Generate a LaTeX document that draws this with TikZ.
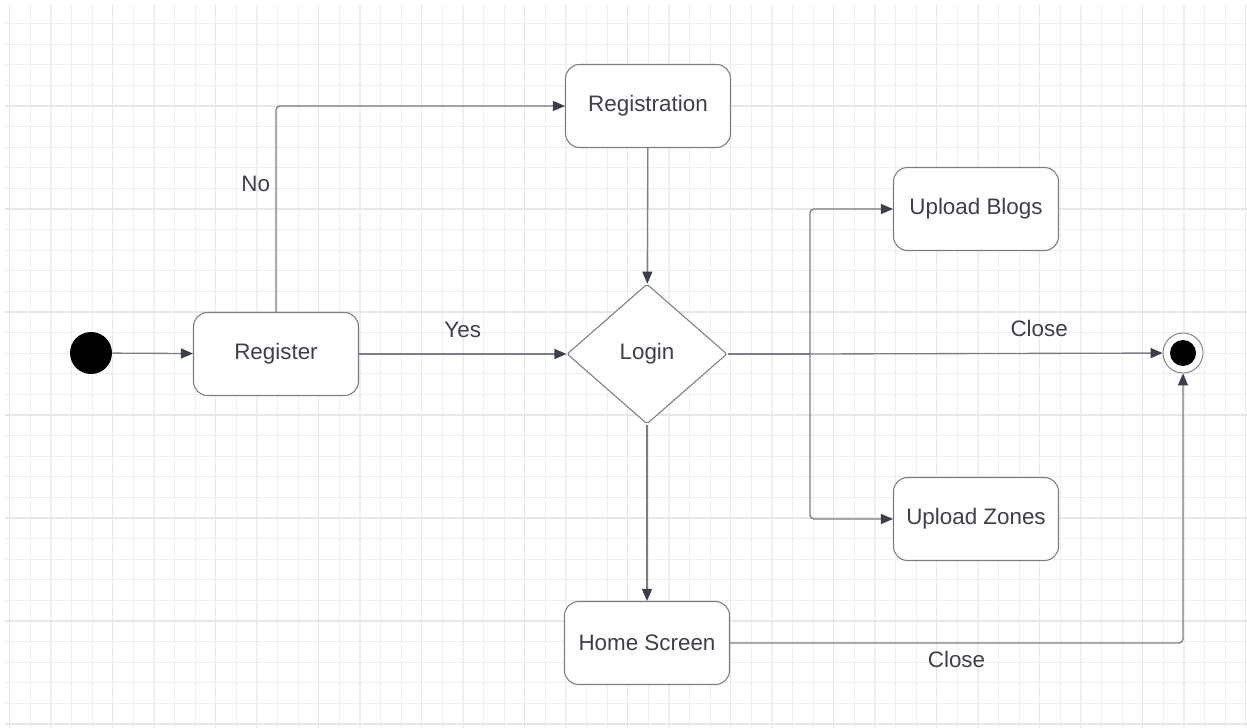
\documentclass[tikz,border=0pt]{standalone}
\usepackage{fontspec}
\setmainfont{Liberation Sans}
\usepackage{xcolor}
\usepackage{tikz}
\usetikzlibrary{calc,positioning,shapes.geometric,arrows.meta}
\definecolor{linegray}{HTML}{7A7E87}
\definecolor{tipgray}{HTML}{3A3F4A}
\definecolor{textgray}{HTML}{3D4049}
\definecolor{gridminor}{HTML}{EFEFEF}
\definecolor{gridmajor}{HTML}{E7E7E7}
\tikzstyle{activity} = [rectangle, rounded corners=10.5pt, minimum width=123.75pt, minimum height=62.25pt, text centered, draw=linegray, line width=0.8pt, fill=white, text=textgray, font=\fontsize{16.8}{19}\selectfont]
\tikzstyle{decision} = [diamond, rounded corners=1.5pt, minimum width=120pt, minimum height=105pt, inner sep=0pt, text centered, draw=linegray, line width=0.8pt, fill=white, text=textgray, font=\fontsize{16.8}{19}\selectfont]
\tikzstyle{lbl} = [text=textgray, font=\fontsize{16.8}{19}\selectfont]
\tikzstyle{wire} = [draw=linegray, line width=1pt]
\tikzstyle{arrow} = [wire, -{Triangle[length=9pt, width=7.5pt, color=tipgray]}]

\begin{document}
\begin{tikzpicture}[x=0.75pt, y=-0.75pt]
      \useasboundingbox (0,0) rectangle (1247,728);
      \fill[white] (0,0) rectangle (1247,728);
      % background grid
      \foreach \k in {0,...,60} {
        \pgfmathtruncatemacro{\m}{mod(\k,5)}
        \ifnum\m=0 \def\gc{gridmajor}\else \def\gc{gridminor}\fi
        \draw[\gc, line width=0.9pt] (9.7+20.6*\k,5) -- (9.7+20.6*\k,728);
      }
      \foreach \k in {1,...,35} {
        \pgfmathtruncatemacro{\m}{mod(\k,5)}
        \ifnum\m=0 \def\gc{gridmajor}\else \def\gc{gridminor}\fi
        \draw[\gc, line width=0.9pt] (5,3+20.6*\k) -- (1247,3+20.6*\k);
      }

      \node (init) [circle, fill=black, minimum size=31.5pt, inner sep=0pt] at (91,353) {};
      \node (reg) [activity] at (276,354) {Register};
      \node (regn) [activity] at (648,106) {Registration};
      \node (login) [decision] at (647,354) {Login};
      \node (blogs) [activity] at (976,209) {Upload Blogs};
      \node (zones) [activity] at (976,519) {Upload Zones};
      \node (home) [activity] at (647,643) {Home Screen};
      \node (stop) [circle, draw=linegray, line width=0.7pt, fill=white, minimum size=30pt, inner sep=0pt] at (1183,353) {};
      \fill[black] (stop.center) circle (9.75pt);
      \coordinate (split) at (810,354);

      \draw [arrow] (init) -- (reg);
      \draw [arrow, rounded corners=3pt] (reg.north) |- node[lbl, pos=0.31, left, inner sep=4pt] {No} (regn.west);
      \draw [arrow] (regn) -- (login);
      \draw [arrow] (reg) -- node[lbl, above, inner sep=12pt] {Yes} (login);
      \draw [wire] (login.east) -- (split);
      \draw [arrow, rounded corners=3pt] (split) |- (blogs.west);
      \draw [arrow, rounded corners=3pt] (split) |- (zones.west);
      \draw [arrow] (split) -- node[lbl, above, pos=0.65, inner sep=12pt] {Close} (stop);
      \draw [arrow] (login) -- (home);
      \draw [arrow, rounded corners=3pt] (home.east) -| node[lbl, below, pos=0.25, inner sep=6pt] {Close} (stop.south);
\end{tikzpicture}
\end{document}
